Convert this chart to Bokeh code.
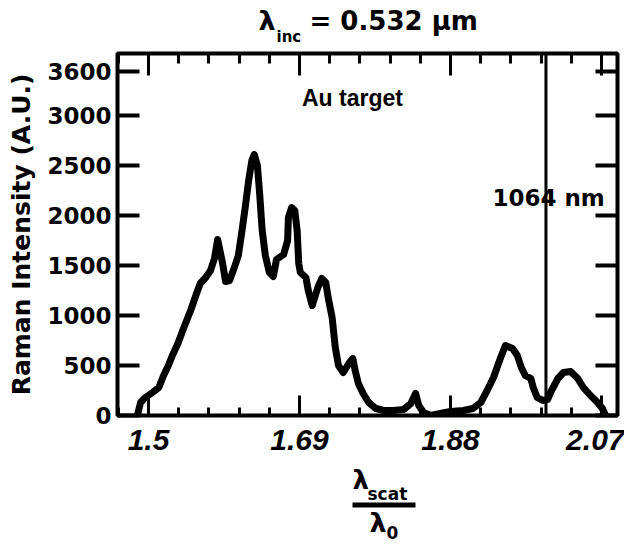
from bokeh.plotting import figure
from bokeh.layouts import column
from bokeh.models import LinearAxis, FixedTicker, Span, Label, Range1d
from bokeh.core.properties import value
from bokeh.embed import file_html
from bokeh.resources import INLINE

# ---- data ----
ratio = [1.486, 1.490, 1.496, 1.505, 1.513, 1.519, 1.525, 1.530, 1.537, 1.544,
         1.553, 1.560, 1.565, 1.572, 1.578, 1.583, 1.587, 1.593, 1.597, 1.602,
         1.608, 1.613, 1.618, 1.622, 1.626, 1.630, 1.633, 1.637, 1.640, 1.643,
         1.647, 1.652, 1.657, 1.661, 1.670, 1.675, 1.676, 1.680, 1.684, 1.687,
         1.689, 1.691, 1.698, 1.701, 1.706, 1.713, 1.718, 1.723, 1.726, 1.731,
         1.735, 1.739, 1.745, 1.752, 1.757, 1.760, 1.764, 1.770, 1.777, 1.786,
         1.796, 1.808, 1.821, 1.830, 1.836, 1.840, 1.846, 1.855, 1.867, 1.880,
         1.896, 1.908, 1.918, 1.926, 1.934, 1.943, 1.949, 1.958, 1.964, 1.969,
         1.974, 1.981, 1.984, 1.989, 1.996, 2.002, 2.007, 2.015, 2.022, 2.031,
         2.040, 2.047, 2.056, 2.065, 2.071, 2.075]
intensity = [0, 130, 180, 230, 280, 400, 500, 600, 720, 870,
             1050, 1210, 1320, 1380, 1450, 1570, 1760, 1530, 1340, 1350,
             1480, 1600, 1870, 2100, 2350, 2550, 2610, 2500, 2200, 1850,
             1600, 1430, 1390, 1560, 1610, 1750, 1980, 2080, 2050, 1850,
             1520, 1430, 1380, 1250, 1100, 1280, 1370, 1330, 1180, 980,
             680, 500, 430, 520, 570, 450, 320, 220, 130, 70,
             50, 50, 60, 120, 220, 100, 30, 0, 20, 40,
             50, 70, 130, 250, 380, 580, 700, 670, 600, 480,
             400, 370, 280, 180, 150, 160, 250, 370, 430, 440,
             370, 280, 200, 130, 70, 0]

x_major_ticks = [1.5, 1.69, 1.88, 2.07]
x_tick_labels = ["1.5", "1.69", "1.88", "2.07"]
y_major_ticks = [0, 500, 1000, 1500, 2000, 2500, 3000, 3440]
y_tick_labels = ["0", "500", "1000", "1500", "2000", "2500", "3000", "3600"]
marker_ratio = 2.0          # 1064 nm / 532 nm
marker_text = "1064 nm"
target_text = "Au target"
y_title = "Raman Intensity (A.U.)"

# minor ticks: 5 subdivisions of each major interval
step = (x_major_ticks[1] - x_major_ticks[0]) / 5
x_minor_ticks = [round(x_major_ticks[0] + k * step, 4) for k in range(-1, 17)]

W = 624
BL, BR = 117, 7            # left / right borders (frames of all rows align)
TITLE_H = 48
MAIN_TOP, FRAME_H, MAIN_BOTTOM = 5, 362, 48
MAIN_H = MAIN_TOP + FRAME_H + MAIN_BOTTOM
XLAB_TOP = TITLE_H + MAIN_H
XLAB_H = 544 - XLAB_TOP

# ---------------- main plot ----------------
p = figure(width=W, height=MAIN_H, x_range=Range1d(1.461, 2.090), y_range=Range1d(0, 3620),
           x_axis_type=None, y_axis_type=None, output_backend="svg",
           toolbar_location=None, min_border_left=BL, min_border_right=BR,
           min_border_top=MAIN_TOP, min_border_bottom=MAIN_BOTTOM)
p.grid.visible = False
p.outline_line_color = "black"
p.outline_line_width = 4
p.background_fill_color = "white"
p.border_fill_color = "white"

def style_x(ax, major_in, minor_in, labels):
    ax.ticker = FixedTicker(ticks=x_major_ticks, minor_ticks=x_minor_ticks)
    ax.axis_line_color = None
    ax.major_tick_in = major_in
    ax.major_tick_out = 0
    ax.minor_tick_in = minor_in
    ax.minor_tick_out = 0
    ax.major_tick_line_width = 3
    ax.minor_tick_line_width = 3
    ax.major_tick_line_color = "black"
    ax.minor_tick_line_color = "black"
    if labels:
        ax.major_label_overrides = {t: l for t, l in zip(x_major_ticks, x_tick_labels)}
        ax.major_label_text_font = "Liberation Sans"
        ax.major_label_text_font_style = "bold italic"
        ax.major_label_text_font_size = "30px"
        ax.major_label_text_color = "black"
        ax.major_label_standoff = 14
    else:
        ax.major_label_overrides = {t: "" for t in x_major_ticks}
        ax.major_label_text_font_size = "1px"
        ax.major_label_standoff = 0

def style_y(ax, labels):
    ax.ticker = FixedTicker(ticks=y_major_ticks, minor_ticks=[])
    ax.axis_line_color = None
    ax.major_tick_in = 22
    ax.major_tick_out = 0
    ax.minor_tick_line_color = None
    ax.major_tick_line_width = 4
    ax.major_tick_line_color = "black"
    if labels:
        ax.major_label_overrides = {t: l for t, l in zip(y_major_ticks, y_tick_labels)}
        ax.major_label_text_font = "DejaVu Sans"
        ax.major_label_text_font_style = "bold"
        ax.major_label_text_font_size = "23px"
        ax.major_label_text_color = "black"
        ax.major_label_standoff = 6
        ax.axis_label = y_title
        ax.axis_label_text_font = "DejaVu Sans"
        ax.axis_label_text_font_style = "bold"
        ax.axis_label_text_font_size = "25px"
        ax.axis_label_text_color = "black"
        ax.axis_label_standoff = 8
    else:
        ax.major_label_overrides = {t: "" for t in y_major_ticks}
        ax.major_label_text_font_size = "1px"
        ax.major_label_standoff = 0

bottom = LinearAxis(); style_x(bottom, 20, 8, True); p.add_layout(bottom, "below")
top = LinearAxis(); style_x(top, 22, 10, False); p.add_layout(top, "above")
left = LinearAxis(); style_y(left, True); p.add_layout(left, "left")
right = LinearAxis(); style_y(right, False); p.add_layout(right, "right")

p.line(ratio, intensity, line_width=7, line_color="black",
       line_join="round", line_cap="round")

p.add_layout(Span(location=marker_ratio, dimension="height",
                  line_color="black", line_width=3))

p.add_layout(Label(x=1.7566, y=3180, text=target_text, text_font="Liberation Sans",
                   text_font_style="bold", text_font_size="23px", text_align="center",
                   text_baseline="middle", text_color="black"))
p.add_layout(Label(x=1.9327, y=2180, text=marker_text, text_font="DejaVu Sans",
                   text_font_style="bold", text_font_size="23px", text_align="left",
                   text_baseline="middle", text_color="black"))

# ---------------- text rows (data units = page pixels) ----------------
def strip(y0, h):
    f = figure(width=W, height=h, x_range=Range1d(BL, W - BR), y_range=Range1d(y0 + h, y0),
               x_axis_type=None, y_axis_type=None, output_backend="svg",
               toolbar_location=None, min_border_left=BL, min_border_right=BR,
               min_border_top=0, min_border_bottom=0)
    f.grid.visible = False
    f.outline_line_color = None
    f.background_fill_color = "white"
    f.border_fill_color = "white"
    return f

def txt(f, x, y, s, size):
    f.text(x=[x], y=[y], text=[s], text_font=value("DejaVu Sans"),
           text_font_style="bold", text_font_size=size, text_align="left",
           text_baseline="middle", text_color="black")

# title: lambda_inc = 0.532 um
t = strip(0, TITLE_H)
txt(t, 258, 20, "λ", "27px")
txt(t, 276, 36, "inc", "15px")
txt(t, 309, 20, "= 0.532 μm", "26px")

# x-axis label: lambda_scat / lambda_0
xl = strip(XLAB_TOP, XLAB_H)
txt(xl, 352, 479, "λ", "26px")
txt(xl, 367, 493, "scat", "17px")
xl.quad(left=[352], right=[415], top=[502], bottom=[507], fill_color="black", line_color=None)
txt(xl, 369, 522, "λ", "27px")
txt(xl, 386, 532, "0", "17px")

layout = column(t, p, xl, spacing=0)
open("out.html", "w").write(file_html(layout, INLINE))
